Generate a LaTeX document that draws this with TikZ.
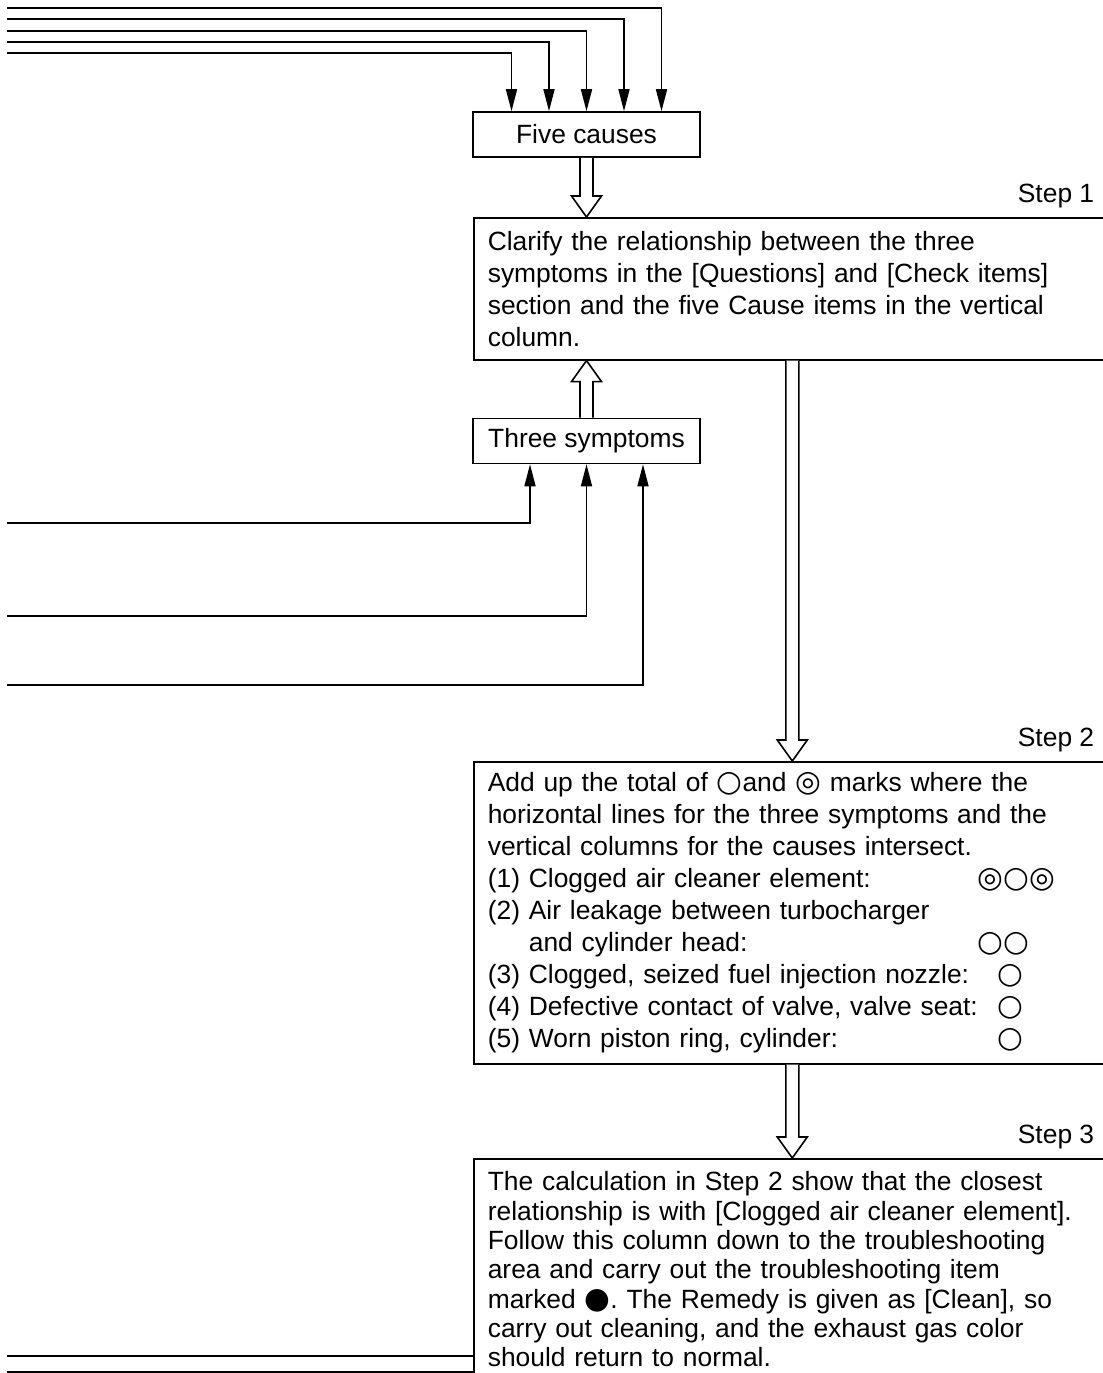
\documentclass[tikz,border=0pt]{standalone}
\usepackage{fontspec}
\setmainfont{Liberation Sans}
\newfontfamily\symfont{DejaVu Sans}[Scale=1.12]
\usepackage{tikz}
\usetikzlibrary{positioning, arrows.meta, calc}

% circle marks set in a font that has them
\newcommand{\mk}[1]{{\symfont #1}}
% hollow block arrow from #1 to the tip #2; #3 = 1 points down, -1 points up
\newcommand{\blockarrow}[3]{%
  \draw[hollow] ($(#1)+(-6.5,0)$) -- ($(#2)+(-6.5,-21*#3)$) -- ($(#2)+(-15,-21*#3)$)
    -- (#2) -- ($(#2)+(15,-21*#3)$) -- ($(#2)+(6.5,-21*#3)$) -- ($(#1)+(6.5,0)$);}

\begin{document}
\begin{tikzpicture}[
    x=0.5pt, y=-0.5pt,
    every node/.style={font=\fontsize{13.2pt}{16pt}\selectfont\frenchspacing},
    smallbox/.style={rectangle, draw, line width=0.8pt, minimum width=113.5pt, minimum height=22.5pt, inner sep=0pt},
    stepbox/.style={rectangle, draw, line width=0.8pt, anchor=north west, text width=304.5pt, inner xsep=7pt, inner ysep=0pt, align=left},
    steplabel/.style={inner sep=0pt},
    arr/.style={-{Triangle[length=11pt, width=5.5pt]}, line width=0.8pt},
    wire/.style={line width=0.8pt},
    hollow/.style={draw, line width=0.8pt, fill=white},
]
\useasboundingbox (0,0) rectangle (1103,1373);

% Boxes
\node[smallbox] (causes) at (586.5,134.5) {Five causes};
\node[smallbox] (symptoms) at (586.5,441) {Three symptoms};

\node[stepbox, minimum height=71pt] (step1) at (473,217)
  {Clarify the relationship between the three\\
   symptoms in the [Questions] and [Check items]\\
   section and the five Cause items in the vertical\\
   column.};
\node[stepbox, minimum height=151pt] (step2) at (473,761)
  {Add up the total of \mk{○}and \mk{◎} marks where the\\
   horizontal lines for the three symptoms and the\\
   vertical columns for the causes intersect.\\
   \makebox[245pt][l]{(1) Clogged air cleaner element:}\mk{◎○◎}\\
   (2) Air leakage between turbocharger\\
   \makebox[245pt][l]{\phantom{(2) }and cylinder head:}\mk{○○}\\
   \makebox[255pt][l]{(3) Clogged, seized fuel injection nozzle:}\mk{○}\\
   \makebox[255pt][l]{(4) Defective contact of valve, valve seat:}\mk{○}\\
   \makebox[255pt][l]{(5) Worn piston ring, cylinder:}\mk{○}};
\node[stepbox, minimum height=110.5pt, font=\fontsize{13.2pt}{14.65pt}\selectfont\frenchspacing] (step3) at (473,1158)
  {The calculation in Step 2 show that the closest\\
   relationship is with [Clogged air cleaner element].\\
   Follow this column down to the troubleshooting\\
   area and carry out the troubleshooting item\\
   marked \mk{●}. The Remedy is given as [Clean], so\\
   carry out cleaning, and the exhaust gas color\\
   should return to normal.};

% Step labels
\node[steplabel, above left=4.25pt and 8.5pt of step1.north east] {Step 1};
\node[steplabel, above left=4.25pt and 8.5pt of step2.north east] {Step 2};
\node[steplabel, above left=4.25pt and 8.5pt of step3.north east] {Step 3};

% Cause columns into the top box
\foreach \dy/\dx [count=\i] in {8/75, 19/37.5, 31/0, 42/-37.5, 53/-75} {
  \coordinate (cause\i) at (7,\dy);
  \draw[arr] (cause\i) -| ($(causes.north)+(\dx,0)$);
}

% Symptom rows into the lower box
\foreach \dy/\dx [count=\i] in {523/-56.5, 616/0, 685/56.5} {
  \coordinate (symp\i) at (7,\dy);
  \draw[arr] (symp\i) -| ($(symptoms.south)+(\dx,0)$);
}

% Remedy rows
\coordinate (rem1) at (7,1356);
\coordinate (rem2) at (7,1372);
\draw[wire] (rem1) -- (rem1 -| step3.west);
\draw[wire] (rem2) -- (rem2 -| step3.west);

% Block arrows
\blockarrow{causes.south}{causes.south |- step1.north}{1}
\blockarrow{symptoms.north}{symptoms.north |- step1.south}{-1}
\blockarrow{step1.south}{step2.north}{1}
\blockarrow{step2.south}{step3.north}{1}

\end{tikzpicture}
\end{document}
